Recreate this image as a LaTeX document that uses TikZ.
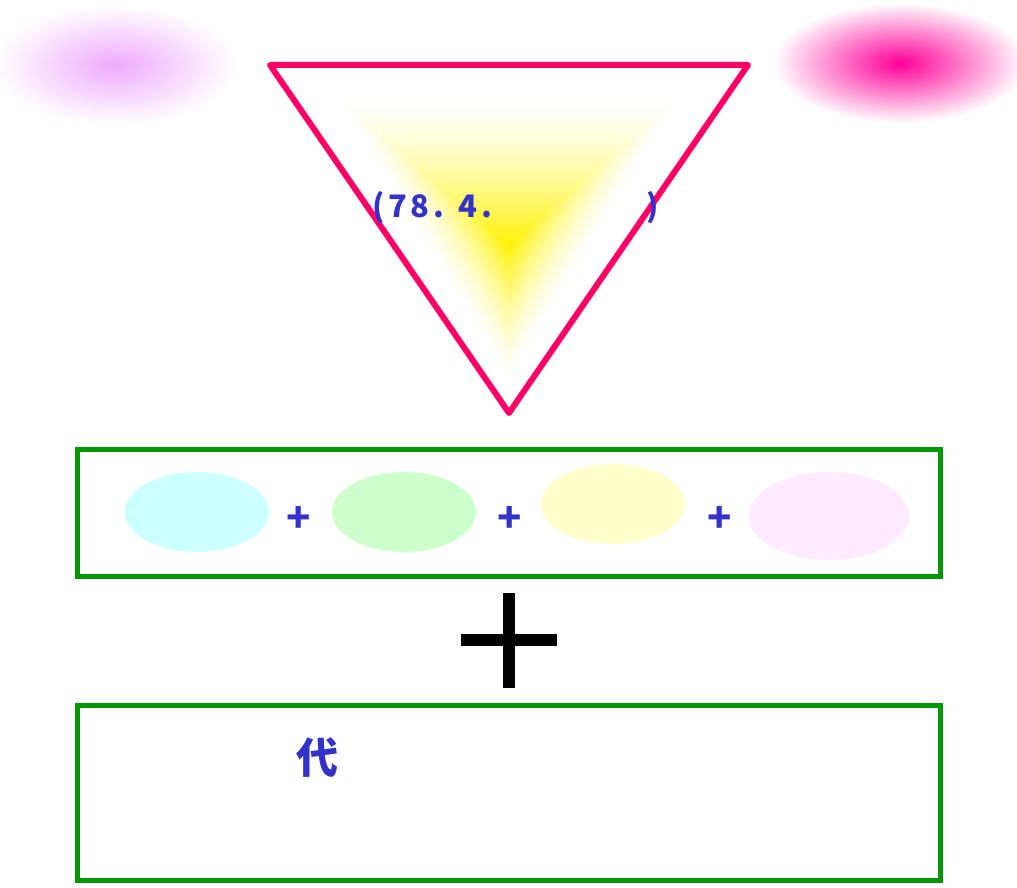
\documentclass[tikz,border=0pt]{standalone}
\usepackage{fontspec}
\newfontfamily\cjk{Noto Sans CJK SC}
\definecolor{tri}{RGB}{255,0,102}
\definecolor{boxg}{RGB}{0,153,0}
\definecolor{txt}{RGB}{51,51,204}
\definecolor{glowv}{RGB}{238,170,255}
\definecolor{glowm}{RGB}{255,0,153}
\definecolor{ecyan}{RGB}{204,255,255}
\definecolor{egreen}{RGB}{204,255,204}
\definecolor{eyellow}{RGB}{255,255,204}
\definecolor{epink}{RGB}{255,234,255}
\tikzset{
  lbl/.style={text=txt, inner sep=0pt, font=\cjk\bfseries\fontsize{31}{36}\selectfont\addfontfeature{LetterSpace=12}},
  plusb/.style={text=txt, inner sep=0pt, font=\cjk\bfseries\fontsize{40}{46}\selectfont},
  gbox/.style={draw=boxg, line width=5pt},
}
\begin{document}
\begin{tikzpicture}[x=1pt,y=-1pt]
\useasboundingbox (0,0) rectangle (1017,888);
\fill[white] (0,0) rectangle (1017,888);
% glows
\shade[inner color=glowv, outer color=white] (115,65) ellipse [x radius=122, y radius=60];
\shade[inner color=glowm, outer color=white] (900,63) ellipse [x radius=127, y radius=60];
% yellow triangular glow
\foreach \i in {0,...,50}{
  \pgfmathsetmacro\s{1-\i/50}
  \pgfmathsetmacro\p{100*(\i/50)^1.5}
  \begin{scope}[shift={(509,245)}, scale=\s]
    \fill[yellow!\p!white] (-175,-150) -- (174,-150) -- (0,140) -- cycle;
  \end{scope}
}
% triangle
\draw[tri, line width=6pt, line join=round] (270,65) -- (748,65) -- (509,413) -- cycle;
\node[lbl, anchor=base west] (t1) at (372,217) {(78. 4.};
\node[lbl, anchor=base west] (t2) at (646,217) {)};
% box 1
\draw[gbox] (77,449) rectangle (940,576);
\fill[ecyan] (197,512) ellipse [x radius=72, y radius=40];
\fill[egreen] (404,512) ellipse [x radius=72, y radius=40];
\fill[eyellow] (613,504) ellipse [x radius=72, y radius=40];
\fill[epink] (829,516) ellipse [x radius=80, y radius=44];
\node[plusb] (p1) at (299,519) {+};
\node[plusb] (p2) at (510,519) {+};
\node[plusb] (p3) at (720,519) {+};
% big plus
\draw[line width=12pt] (509,593) -- (509,688);
\draw[line width=12pt] (461,640) -- (557,640);
% box 2
\draw[gbox] (77,705) rectangle (940,880);
\node[text=txt, inner sep=0pt, font=\cjk\bfseries\fontsize{42}{48}\selectfont] (t3) at (317,758) {代};
\end{tikzpicture}
\end{document}
